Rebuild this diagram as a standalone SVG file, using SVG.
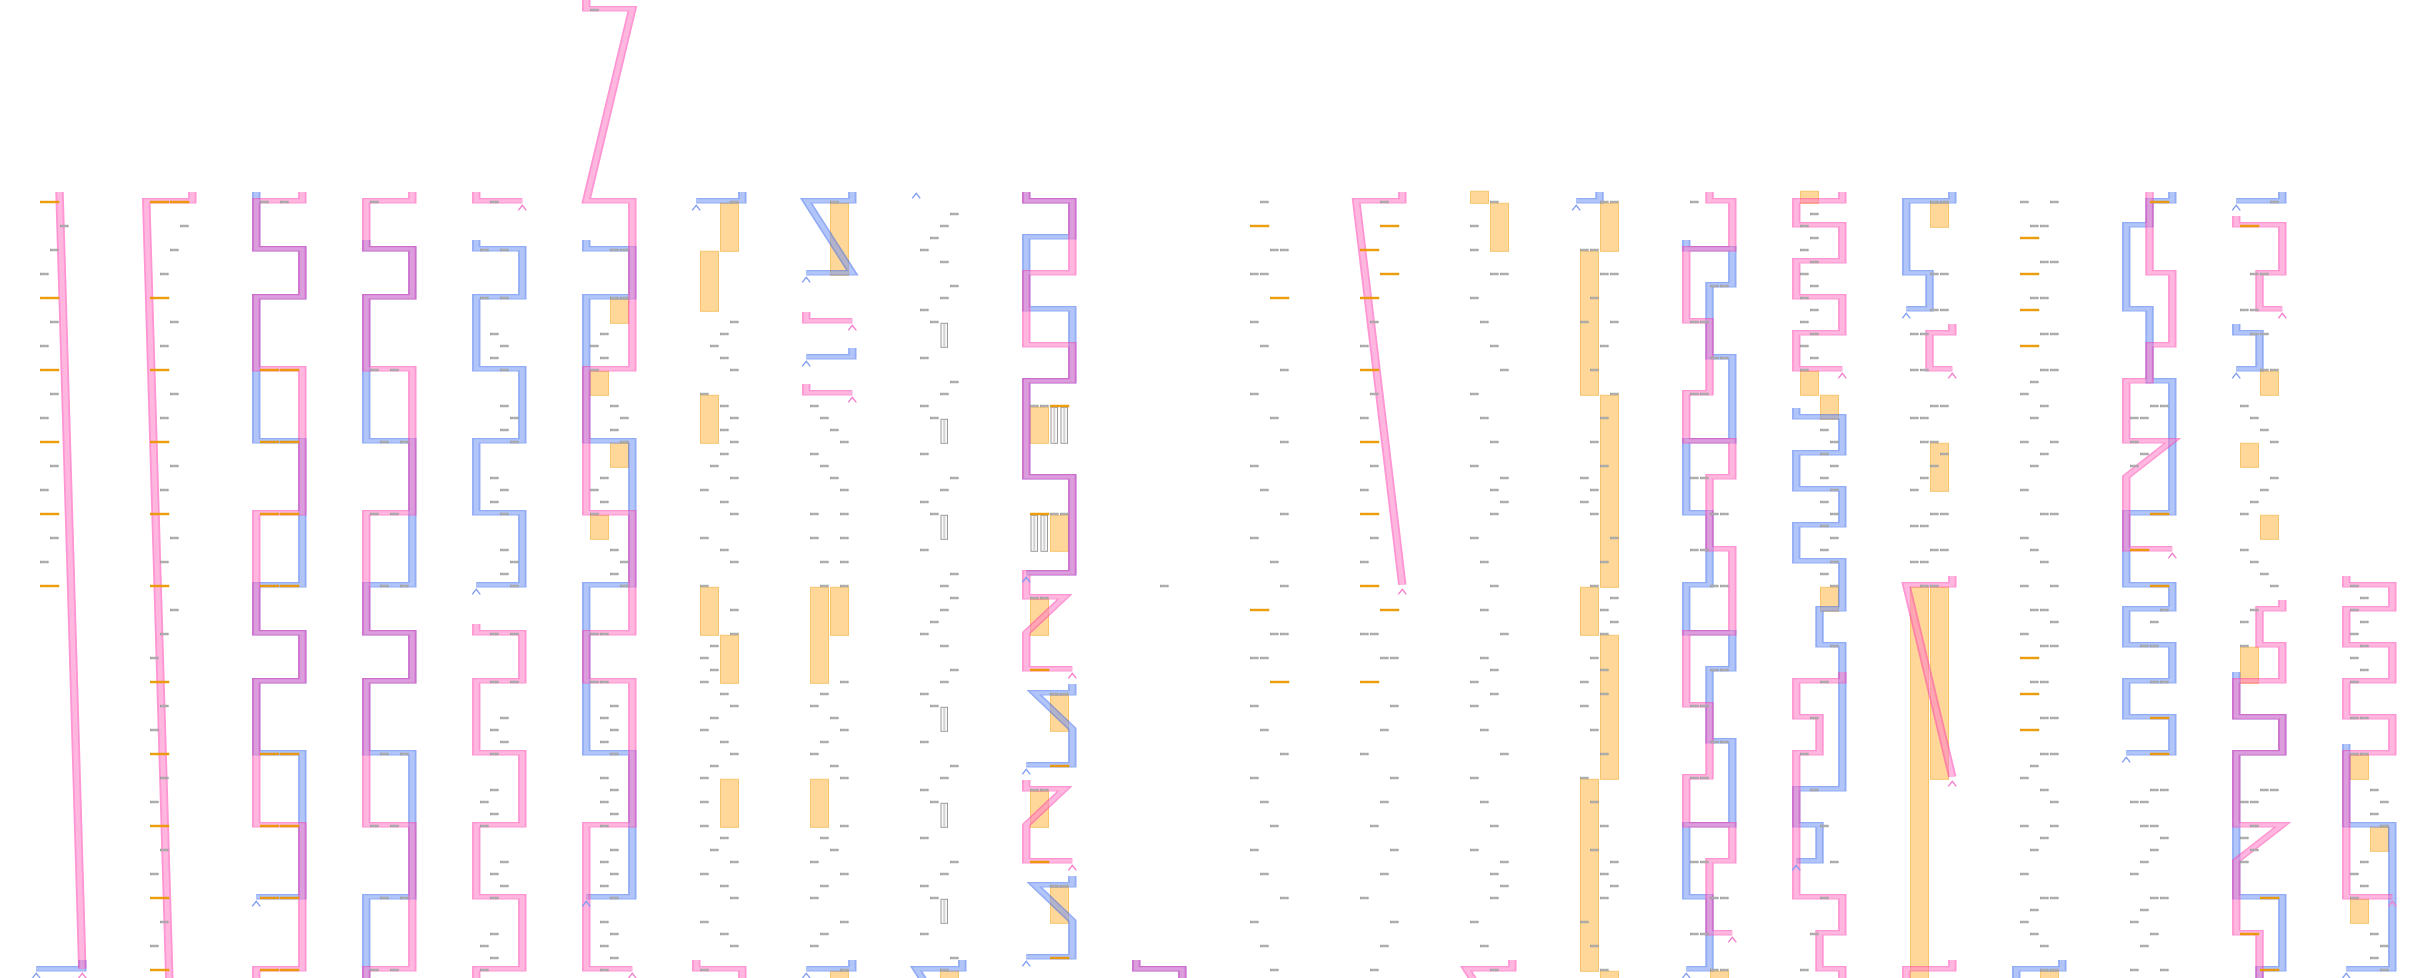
<svg xmlns="http://www.w3.org/2000/svg" width="2430" height="978" viewBox="0 0 2430 978">
<style>
.or{fill:#ffd899;stroke:#f7c56e;stroke-width:1}
.st{fill:#fafafa;stroke:#9a9a9a;stroke-width:1}
.stl{stroke:#d2d2d2;stroke-width:2}
.bl,.pk{opacity:.55}
.o{fill:none;stroke-width:5.6}
.i{fill:none;stroke-width:3.2}
.bl .o{stroke:#3a68ee}.bl .i{stroke:#7596f3}
.pk .o{stroke:#ff3fae}.pk .i{stroke:#ff7ec8}
.cb{fill:none;stroke:#7f9cf2;stroke-width:1.3}
.cp{fill:none;stroke:#f47acb;stroke-width:1.3}
</style>
<defs>
<rect id="g" x="0.5" y="-0.7" width="7.6" height="1.4" fill="#fff" stroke="#9b9b9b" stroke-width="1"/>
<rect id="o" x="0.5" y="-0.7" width="18.2" height="1.4" fill="#f7a712" stroke="#e99500" stroke-width="1"/>
<path id="cv" d="M-4 9.5L0 4.5L4 9.5"/>
<path id="p0p" d="M13 192L28.2 968.8"/>
<path id="p0b" d="M28.2 960V968.8H-2.5"/>
<path id="p1p" d="M28.2 192V200.8H-2.5L13 985"/>
<path id="p2b" d="M-2.5 192V248.8H28.2V296.8H-2.5V440.8H28.2V584.8H-2.5V632.8H28.2V680.8H-2.5V752.8H28.2V896.8H-2.5"/>
<path id="p2p" d="M28.2 192V200.8H-2.5V248.8H28.2V296.8H-2.5V368.8H28.2V512.8H-2.5V632.8H28.2V680.8H-2.5V824.8H28.2V968.8H-2.5V985"/>
<path id="p3b" d="M-2.5 240V248.8H28.2V296.8H-2.5V440.8H28.2V584.8H-2.5V632.8H28.2V680.8H-2.5V752.8H28.2V896.8H-2.5V985"/>
<path id="p4a" d="M-2.5 192V200.8H28.2"/>
<path id="p4b" d="M-2.5 240V248.8H28.2V296.8H-2.5V368.8H28.2V440.8H-2.5V512.8H28.2V584.8H-2.5"/>
<path id="p4c" d="M-2.5 624V632.8H28.2V680.8H-2.5V752.8H28.2V824.8H-2.5V896.8H28.2V968.8H-2.5V985"/>
<path id="p5b" d="M-2.5 240V248.8H28.2V296.8H-2.5V440.8H28.2V584.8H-2.5V752.8H28.2V896.8H-2.5"/>
<path id="p5p" d="M-2.5 -5V8.8H28.2L-2.5 200.8H28.2V368.8H-2.5V512.8H28.2V632.8H-2.5V680.8H28.2V824.8H-2.5V968.8H28.2"/>
<path id="pTL" d="M28.2 192V200.8H-2.5"/>
<path id="pBR" d="M-2.5 960V968.8H28.2V985"/>
<path id="pBL" d="M28.2 960V968.8H-2.5V985"/>
<path id="p7a" d="M28.2 192V200.8H-2.5L28.2 272.8H-2.5"/>
<path id="p7b" d="M-2.5 312V320.8H28.2"/>
<path id="p7c" d="M28.2 348V356.8H-2.5"/>
<path id="p7d" d="M-2.5 384V392.8H28.2"/>
<path id="pZ" d="M28.2 960V968.8H-2.5L28.2 1040.8"/>
<path id="p9b" d="M-2.5 192V200.8H28.2V236.8H-2.5V308.8H28.2V380.8H-2.5V476.8H28.2V572.8H-2.5"/>
<path id="p9c" d="M28.2 684V692.8H3L28.2 728.8V764.8H-2.5"/>
<path id="p9d" d="M28.2 876V884.8H3L28.2 920.8V956.8H-2.5"/>
<path id="p9p" d="M-2.5 192V200.8H28.2V272.8H-2.5V344.8H28.2V380.8H-2.5V476.8H28.2V572.8H-2.5V596.8H23L-2.5 632.8V668.8H28.2"/>
<path id="p9q" d="M-2.5 780V788.8H23L-2.5 824.8V860.8H28.2"/>
<path id="p12" d="M28.2 192V200.8H-2.5L28.2 584.8"/>
<path id="p14" d="M13 192V200.8H-2.5"/>
<path id="p15p" d="M13 192V200.8H28.2V248.8H-2.5V320.8H13V392.8H-2.5V440.8H28.2V476.8H13V548.8H28.2V632.8H-2.5V704.8H13V776.8H-2.5V824.8H28.2V860.8H13V932.8H28.2"/>
<path id="p15b" d="M-2.5 240V248.8H28.2V284.8H13V356.8H28.2V440.8H-2.5V512.8H13V584.8H-2.5V632.8H28.2V668.8H13V740.8H28.2V824.8H-2.5V896.8H13V968.8H-2.5"/>
<path id="p16a" d="M28.2 192V200.8H-2.5V224.8H28.2V260.8H-2.5V296.8H28.2V332.8H-2.5V368.8H28.2"/>
<path id="p16b" d="M-2.5 408V416.8H28.2V452.8H-2.5V488.8H28.2V524.8H-2.5V560.8H28.2V608.8H13V644.8H28.2V788.8H-2.5V824.8H13V860.8H-2.5"/>
<path id="p16c" d="M28.2 672V680.8H-2.5V716.8H13V752.8H-2.5V896.8H28.2V932.8H13V968.8H28.2V985"/>
<path id="p17a" d="M28.2 192V200.8H-2.5V272.8H13V308.8H-2.5"/>
<path id="p17b" d="M28.2 324V332.8H13V368.8H28.2"/>
<path id="p17c" d="M28.2 576V584.8H-2.5L28.2 776.8"/>
<path id="p19b" d="M28.2 192V200.8H13V224.8H-2.5V308.8H13V380.8H28.2V512.8H-2.5V584.8H28.2V608.8H-2.5V644.8H28.2V680.8H-2.5V716.8H28.2V752.8H-2.5"/>
<path id="p19p" d="M13 192V272.8H28.2V344.8H13V380.8H-2.5V440.8H28.2L-2.5 476.8V548.8H28.2"/>
<path id="p20a" d="M-2.5 216V224.8H28.2V272.8H13V308.8H28.2"/>
<path id="p20b" d="M-2.5 324V332.8H13V368.8H-2.5"/>
<path id="p20c" d="M-2.5 672V716.8H28.2V752.8H-2.5V896.8H28.2V968.8H13V985"/>
<path id="p20d" d="M28.2 600V608.8H13V644.8H28.2V680.8H-2.5V716.8H28.2V752.8H-2.5V824.8H28.2L-2.5 860.8V932.8H13V985"/>
<path id="p21b" d="M-2.5 744V824.8H28.2V968.8H-2.5"/>
<path id="p21p" d="M-2.5 576V584.8H28.2V608.8H-2.5V644.8H28.2V680.8H-2.5V716.8H28.2V752.8H-2.5V896.8H28.2"/>
</defs>
<rect width="2430" height="978" fill="#fff"/>

<g id="bands">
<g transform="translate(590 202)"><rect class="or" x="20.5" y="97.3" width="18" height="24"/><rect class="or" x="0.5" y="169.3" width="18" height="24"/><rect class="or" x="20.5" y="241.3" width="18" height="24"/><rect class="or" x="0.5" y="313.3" width="18" height="24"/></g>
<g transform="translate(700 202)"><rect class="or" x="20.5" y="1.3" width="18" height="48"/><rect class="or" x="0.5" y="49.3" width="18" height="60"/><rect class="or" x="0.5" y="193.3" width="18" height="48"/><rect class="or" x="0.5" y="385.3" width="18" height="48"/><rect class="or" x="20.5" y="433.3" width="18" height="48"/><rect class="or" x="20.5" y="577.3" width="18" height="48"/></g>
<g transform="translate(810 202)"><rect class="or" x="20.5" y="1.3" width="18" height="72"/><rect class="or" x="0.5" y="385.3" width="18" height="96"/><rect class="or" x="20.5" y="385.3" width="18" height="48"/><rect class="or" x="0.5" y="577.3" width="18" height="48"/><rect class="or" x="20.5" y="769.3" width="18" height="24"/></g>
<g transform="translate(920 202)"><rect class="or" x="20.5" y="769.3" width="18" height="24"/>
<rect class="st" x="21" y="121.3" width="6.5" height="24"/><line class="stl" x1="24.25" y1="121.8" x2="24.25" y2="144.8"/>
<rect class="st" x="21" y="217.3" width="6.5" height="24"/><line class="stl" x1="24.25" y1="217.8" x2="24.25" y2="240.8"/>
<rect class="st" x="21" y="313.3" width="6.5" height="24"/><line class="stl" x1="24.25" y1="313.8" x2="24.25" y2="336.8"/>
<rect class="st" x="21" y="505.3" width="6.5" height="24"/><line class="stl" x1="24.25" y1="505.8" x2="24.25" y2="528.8"/>
<rect class="st" x="21" y="601.3" width="6.5" height="24"/><line class="stl" x1="24.25" y1="601.8" x2="24.25" y2="624.8"/>
<rect class="st" x="21" y="697.3" width="6.5" height="24"/><line class="stl" x1="24.25" y1="697.8" x2="24.25" y2="720.8"/></g>
<g transform="translate(1030 202)"><rect class="or" x="0.5" y="205.3" width="18" height="36"/><rect class="or" x="20.5" y="313.3" width="18" height="36"/><rect class="or" x="0.5" y="397.3" width="18" height="36"/><rect class="or" x="20.5" y="493.3" width="18" height="36"/><rect class="or" x="0.5" y="589.3" width="18" height="36"/><rect class="or" x="20.5" y="685.3" width="18" height="36"/>
<rect class="st" x="21" y="205.3" width="6.5" height="36"/><line class="stl" x1="24.25" y1="205.8" x2="24.25" y2="240.8"/>
<rect class="st" x="31" y="205.3" width="6.5" height="36"/><line class="stl" x1="34.25" y1="205.8" x2="34.25" y2="240.8"/>
<rect class="st" x="1" y="313.3" width="6.5" height="36"/><line class="stl" x1="4.25" y1="313.8" x2="4.25" y2="348.8"/>
<rect class="st" x="11" y="313.3" width="6.5" height="36"/><line class="stl" x1="14.25" y1="313.8" x2="14.25" y2="348.8"/></g>
<g transform="translate(1470 202)"><rect class="or" x="0.5" y="-10.7" width="18" height="12"/><rect class="or" x="20.5" y="1.3" width="18" height="48"/></g>
<g transform="translate(1580 202)"><rect class="or" x="20.5" y="1.3" width="18" height="48"/><rect class="or" x="0.5" y="49.3" width="18" height="144"/><rect class="or" x="20.5" y="193.3" width="18" height="192"/><rect class="or" x="0.5" y="385.3" width="18" height="48"/><rect class="or" x="20.5" y="433.3" width="18" height="144"/><rect class="or" x="0.5" y="577.3" width="18" height="192"/><rect class="or" x="20.5" y="769.3" width="18" height="24"/></g>
<g transform="translate(1690 202)"><rect class="or" x="20.5" y="769.3" width="18" height="24"/></g>
<g transform="translate(1800 202)"><rect class="or" x="0.5" y="-10.7" width="18" height="12"/><rect class="or" x="0.5" y="169.3" width="18" height="24"/><rect class="or" x="20.5" y="193.3" width="18" height="24"/><rect class="or" x="20.5" y="385.3" width="18" height="24"/></g>
<g transform="translate(1910 202)"><rect class="or" x="20.5" y="1.3" width="18" height="24"/><rect class="or" x="20.5" y="241.3" width="18" height="48"/><rect class="or" x="0.5" y="385.3" width="18" height="400"/><rect class="or" x="20.5" y="385.3" width="18" height="192"/></g>
<g transform="translate(2020 202)"><rect class="or" x="20.5" y="769.3" width="18" height="24"/></g>
<g transform="translate(2240 202)"><rect class="or" x="20.5" y="169.3" width="18" height="24"/><rect class="or" x="0.5" y="241.3" width="18" height="24"/><rect class="or" x="20.5" y="313.3" width="18" height="24"/><rect class="or" x="0.5" y="445.3" width="18" height="36"/></g>
<g transform="translate(2350 202)"><rect class="or" x="0.5" y="553.3" width="18" height="24"/><rect class="or" x="20.5" y="625.3" width="18" height="24"/><rect class="or" x="0.5" y="697.3" width="18" height="24"/></g>
</g>

<g id="connectors">
<g transform="translate(40 0) scale(1.5 1)"><g class="bl"><use href="#p0b" class="o"/><use href="#p0b" class="i"/></g><g class="pk"><use href="#p0p" class="o"/><use href="#p0p" class="i"/></g></g>
<g transform="translate(150 0) scale(1.5 1)"><g class="pk"><use href="#p1p" class="o"/><use href="#p1p" class="i"/></g></g>
<g transform="translate(260 0) scale(1.5 1)"><g class="bl"><use href="#p2b" class="o"/><use href="#p2b" class="i"/></g><g class="pk"><use href="#p2p" class="o"/><use href="#p2p" class="i"/></g></g>
<g transform="translate(370 0) scale(1.5 1)"><g class="bl"><use href="#p3b" class="o"/><use href="#p3b" class="i"/></g><g class="pk"><use href="#p2p" class="o"/><use href="#p2p" class="i"/></g></g>
<g transform="translate(480 0) scale(1.5 1)"><g class="bl"><use href="#p4b" class="o"/><use href="#p4b" class="i"/></g><g class="pk"><use href="#p4a" class="o"/><use href="#p4a" class="i"/></g><g class="pk"><use href="#p4c" class="o"/><use href="#p4c" class="i"/></g></g>
<g transform="translate(590 0) scale(1.5 1)"><g class="bl"><use href="#p5b" class="o"/><use href="#p5b" class="i"/></g><g class="pk"><use href="#p5p" class="o"/><use href="#p5p" class="i"/></g></g>
<g transform="translate(700 0) scale(1.5 1)"><g class="bl"><use href="#pTL" class="o"/><use href="#pTL" class="i"/></g><g class="pk"><use href="#pBR" class="o"/><use href="#pBR" class="i"/></g></g>
<g transform="translate(810 0) scale(1.5 1)"><g class="bl"><use href="#p7a" class="o"/><use href="#p7a" class="i"/></g><g class="pk"><use href="#p7b" class="o"/><use href="#p7b" class="i"/></g><g class="bl"><use href="#p7c" class="o"/><use href="#p7c" class="i"/></g><g class="pk"><use href="#p7d" class="o"/><use href="#p7d" class="i"/></g><g class="bl"><use href="#p0b" class="o"/><use href="#p0b" class="i"/></g></g>
<g transform="translate(920 0) scale(1.5 1)"><g class="bl"><use href="#pZ" class="o"/><use href="#pZ" class="i"/></g></g>
<g transform="translate(1030 0) scale(1.5 1)"><g class="bl"><use href="#p9b" class="o"/><use href="#p9b" class="i"/></g><g class="bl"><use href="#p9c" class="o"/><use href="#p9c" class="i"/></g><g class="bl"><use href="#p9d" class="o"/><use href="#p9d" class="i"/></g><g class="pk"><use href="#p9p" class="o"/><use href="#p9p" class="i"/></g><g class="pk"><use href="#p9q" class="o"/><use href="#p9q" class="i"/></g></g>
<g transform="translate(1140 0) scale(1.5 1)"><g class="bl"><use href="#pBR" class="o"/><use href="#pBR" class="i"/></g><g class="pk"><use href="#pBR" class="o"/><use href="#pBR" class="i"/></g></g>
<g transform="translate(1360 0) scale(1.5 1)"><g class="pk"><use href="#p12" class="o"/><use href="#p12" class="i"/></g></g>
<g transform="translate(1470 0) scale(1.5 1)"><g class="pk"><use href="#pZ" class="o"/><use href="#pZ" class="i"/></g></g>
<g transform="translate(1580 0) scale(1.5 1)"><g class="bl"><use href="#p14" class="o"/><use href="#p14" class="i"/></g></g>
<g transform="translate(1690 0) scale(1.5 1)"><g class="bl"><use href="#p15b" class="o"/><use href="#p15b" class="i"/></g><g class="pk"><use href="#p15p" class="o"/><use href="#p15p" class="i"/></g></g>
<g transform="translate(1800 0) scale(1.5 1)"><g class="bl"><use href="#p16b" class="o"/><use href="#p16b" class="i"/></g><g class="pk"><use href="#p16a" class="o"/><use href="#p16a" class="i"/></g><g class="pk"><use href="#p16c" class="o"/><use href="#p16c" class="i"/></g></g>
<g transform="translate(1910 0) scale(1.5 1)"><g class="bl"><use href="#p17a" class="o"/><use href="#p17a" class="i"/></g><g class="pk"><use href="#p17b" class="o"/><use href="#p17b" class="i"/></g><g class="pk"><use href="#p17c" class="o"/><use href="#p17c" class="i"/></g><g class="pk"><use href="#pBL" class="o"/><use href="#pBL" class="i"/></g></g>
<g transform="translate(2020 0) scale(1.5 1)"><g class="bl"><use href="#pBL" class="o"/><use href="#pBL" class="i"/></g></g>
<g transform="translate(2130 0) scale(1.5 1)"><g class="bl"><use href="#p19b" class="o"/><use href="#p19b" class="i"/></g><g class="pk"><use href="#p19p" class="o"/><use href="#p19p" class="i"/></g></g>
<g transform="translate(2240 0) scale(1.5 1)"><g class="bl"><use href="#pTL" class="o"/><use href="#pTL" class="i"/></g><g class="bl"><use href="#p20b" class="o"/><use href="#p20b" class="i"/></g><g class="bl"><use href="#p20c" class="o"/><use href="#p20c" class="i"/></g><g class="pk"><use href="#p20a" class="o"/><use href="#p20a" class="i"/></g><g class="pk"><use href="#p20d" class="o"/><use href="#p20d" class="i"/></g></g>
<g transform="translate(2350 0) scale(1.5 1)"><g class="bl"><use href="#p21b" class="o"/><use href="#p21b" class="i"/></g><g class="pk"><use href="#p21p" class="o"/><use href="#p21p" class="i"/></g></g>
</g>

<g id="col-0" transform="translate(40 202)">
<use href="#cv" class="cp" x="42.3" y="766.8"/><use href="#cv" class="cb" x="-3.75" y="766.8"/>
<use href="#o" x="0" y="0"/><use href="#o" x="0" y="96"/><use href="#o" x="0" y="168"/><use href="#o" x="0" y="240"/><use href="#o" x="0" y="312"/><use href="#o" x="0" y="384"/>
<use href="#g" x="20" y="24"/><use href="#g" x="10" y="48"/><use href="#g" x="0" y="72"/><use href="#g" x="10" y="120"/><use href="#g" x="0" y="144"/><use href="#g" x="10" y="192"/><use href="#g" x="0" y="216"/><use href="#g" x="10" y="264"/><use href="#g" x="0" y="288"/><use href="#g" x="10" y="336"/><use href="#g" x="0" y="360"/>
</g>
<g id="col-1" transform="translate(150 202)">
<use href="#o" x="0" y="0"/><use href="#o" x="20" y="0"/><use href="#o" x="0" y="96"/><use href="#o" x="0" y="168"/><use href="#o" x="0" y="240"/><use href="#o" x="0" y="312"/><use href="#o" x="0" y="384"/><use href="#o" x="0" y="480"/><use href="#o" x="0" y="552"/><use href="#o" x="0" y="624"/><use href="#o" x="0" y="696"/><use href="#o" x="0" y="768"/>
<use href="#g" x="30" y="24"/><use href="#g" x="20" y="48"/><use href="#g" x="10" y="72"/><use href="#g" x="20" y="120"/><use href="#g" x="10" y="144"/><use href="#g" x="20" y="192"/><use href="#g" x="10" y="216"/><use href="#g" x="20" y="264"/><use href="#g" x="10" y="288"/><use href="#g" x="20" y="336"/><use href="#g" x="10" y="360"/><use href="#g" x="20" y="408"/><use href="#g" x="10" y="432"/><use href="#g" x="0" y="456"/><use href="#g" x="10" y="504"/><use href="#g" x="0" y="528"/><use href="#g" x="10" y="576"/><use href="#g" x="0" y="600"/><use href="#g" x="10" y="648"/><use href="#g" x="0" y="672"/><use href="#g" x="10" y="720"/><use href="#g" x="0" y="744"/>
</g>
<g id="col-2" transform="translate(260 202)">
<use href="#cv" class="cb" x="-3.75" y="694.8"/>
<use href="#g" x="0" y="0"/><use href="#g" x="20" y="0"/>
<use href="#o" x="0" y="168"/><use href="#o" x="20" y="168"/><use href="#o" x="0" y="240"/><use href="#o" x="20" y="240"/><use href="#o" x="0" y="312"/><use href="#o" x="20" y="312"/><use href="#o" x="0" y="384"/><use href="#o" x="20" y="384"/><use href="#o" x="0" y="552"/><use href="#o" x="20" y="552"/><use href="#o" x="0" y="624"/><use href="#o" x="20" y="624"/><use href="#o" x="0" y="696"/><use href="#o" x="20" y="696"/><use href="#o" x="0" y="768"/><use href="#o" x="20" y="768"/>
</g>
<g id="col-3" transform="translate(370 202)">
<use href="#g" x="0" y="0"/><use href="#g" x="0" y="168"/><use href="#g" x="20" y="168"/><use href="#g" x="10" y="240"/><use href="#g" x="30" y="240"/><use href="#g" x="0" y="312"/><use href="#g" x="20" y="312"/><use href="#g" x="10" y="384"/><use href="#g" x="30" y="384"/><use href="#g" x="10" y="552"/><use href="#g" x="30" y="552"/><use href="#g" x="0" y="624"/><use href="#g" x="20" y="624"/><use href="#g" x="10" y="696"/><use href="#g" x="30" y="696"/><use href="#g" x="0" y="768"/><use href="#g" x="20" y="768"/>
</g>
<g id="col-4" transform="translate(480 202)">
<use href="#cv" class="cp" x="42.3" y="-1.2"/><use href="#cv" class="cb" x="-3.75" y="382.8"/>
<use href="#g" x="10" y="0"/><use href="#g" x="0" y="48"/><use href="#g" x="20" y="48"/><use href="#g" x="0" y="96"/><use href="#g" x="20" y="96"/><use href="#g" x="10" y="132"/><use href="#g" x="20" y="144"/><use href="#g" x="10" y="156"/><use href="#g" x="20" y="168"/><use href="#g" x="20" y="204"/><use href="#g" x="30" y="216"/><use href="#g" x="20" y="228"/><use href="#g" x="30" y="240"/><use href="#g" x="10" y="276"/><use href="#g" x="20" y="288"/><use href="#g" x="10" y="300"/><use href="#g" x="20" y="312"/><use href="#g" x="20" y="348"/><use href="#g" x="30" y="360"/><use href="#g" x="20" y="372"/><use href="#g" x="30" y="384"/><use href="#g" x="10" y="432"/><use href="#g" x="30" y="432"/><use href="#g" x="10" y="480"/><use href="#g" x="30" y="480"/><use href="#g" x="20" y="516"/><use href="#g" x="10" y="528"/><use href="#g" x="20" y="540"/><use href="#g" x="10" y="552"/><use href="#g" x="10" y="588"/><use href="#g" x="0" y="600"/><use href="#g" x="10" y="612"/><use href="#g" x="0" y="624"/><use href="#g" x="20" y="660"/><use href="#g" x="10" y="672"/><use href="#g" x="20" y="684"/><use href="#g" x="10" y="696"/><use href="#g" x="10" y="732"/><use href="#g" x="0" y="744"/><use href="#g" x="10" y="756"/><use href="#g" x="0" y="768"/>
</g>
<g id="col-5" transform="translate(590 202)">
<use href="#cv" class="cb" x="-3.75" y="694.8"/><use href="#cv" class="cp" x="42.3" y="766.8"/>
<use href="#g" x="0" y="-192"/><use href="#g" x="20" y="48"/><use href="#g" x="30" y="48"/><use href="#g" x="20" y="96"/><use href="#g" x="30" y="96"/><use href="#g" x="10" y="132"/><use href="#g" x="0" y="144"/><use href="#g" x="10" y="156"/><use href="#g" x="0" y="168"/><use href="#g" x="20" y="204"/><use href="#g" x="30" y="216"/><use href="#g" x="20" y="228"/><use href="#g" x="30" y="240"/><use href="#g" x="10" y="276"/><use href="#g" x="0" y="288"/><use href="#g" x="10" y="300"/><use href="#g" x="0" y="312"/><use href="#g" x="20" y="348"/><use href="#g" x="30" y="360"/><use href="#g" x="20" y="372"/><use href="#g" x="30" y="384"/><use href="#g" x="0" y="432"/><use href="#g" x="10" y="432"/><use href="#g" x="0" y="480"/><use href="#g" x="10" y="480"/><use href="#g" x="20" y="504"/><use href="#g" x="10" y="516"/><use href="#g" x="20" y="528"/><use href="#g" x="10" y="540"/><use href="#g" x="20" y="552"/><use href="#g" x="10" y="576"/><use href="#g" x="20" y="588"/><use href="#g" x="10" y="600"/><use href="#g" x="20" y="612"/><use href="#g" x="10" y="624"/><use href="#g" x="20" y="648"/><use href="#g" x="10" y="660"/><use href="#g" x="20" y="672"/><use href="#g" x="10" y="684"/><use href="#g" x="20" y="696"/><use href="#g" x="10" y="720"/><use href="#g" x="20" y="732"/><use href="#g" x="10" y="744"/><use href="#g" x="20" y="756"/><use href="#g" x="10" y="768"/>
</g>
<g id="col-6" transform="translate(700 202)">
<use href="#cv" class="cb" x="-3.75" y="-1.2"/>
<use href="#g" x="30" y="0"/><use href="#g" x="30" y="120"/><use href="#g" x="20" y="132"/><use href="#g" x="10" y="144"/><use href="#g" x="20" y="156"/><use href="#g" x="30" y="168"/><use href="#g" x="0" y="192"/><use href="#g" x="20" y="204"/><use href="#g" x="30" y="216"/><use href="#g" x="20" y="228"/><use href="#g" x="30" y="240"/><use href="#g" x="20" y="252"/><use href="#g" x="10" y="264"/><use href="#g" x="30" y="276"/><use href="#g" x="0" y="288"/><use href="#g" x="20" y="300"/><use href="#g" x="30" y="312"/><use href="#g" x="0" y="336"/><use href="#g" x="20" y="348"/><use href="#g" x="30" y="360"/><use href="#g" x="0" y="384"/><use href="#g" x="30" y="408"/><use href="#g" x="30" y="432"/><use href="#g" x="10" y="444"/><use href="#g" x="0" y="456"/><use href="#g" x="10" y="468"/><use href="#g" x="0" y="480"/><use href="#g" x="20" y="492"/><use href="#g" x="30" y="504"/><use href="#g" x="10" y="516"/><use href="#g" x="0" y="528"/><use href="#g" x="20" y="540"/><use href="#g" x="30" y="552"/><use href="#g" x="10" y="564"/><use href="#g" x="0" y="576"/><use href="#g" x="0" y="600"/><use href="#g" x="0" y="624"/><use href="#g" x="20" y="636"/><use href="#g" x="10" y="648"/><use href="#g" x="30" y="660"/><use href="#g" x="0" y="672"/><use href="#g" x="20" y="684"/><use href="#g" x="30" y="696"/><use href="#g" x="0" y="720"/><use href="#g" x="20" y="732"/><use href="#g" x="30" y="744"/><use href="#g" x="0" y="768"/>
</g>
<g id="col-7" transform="translate(810 202)">
<use href="#cv" class="cb" x="-3.75" y="70.8"/><use href="#cv" class="cp" x="42.3" y="118.8"/><use href="#cv" class="cb" x="-3.75" y="154.8"/><use href="#cv" class="cp" x="42.3" y="190.8"/><use href="#cv" class="cb" x="-3.75" y="766.8"/>
<use href="#g" x="20" y="0"/><use href="#g" x="0" y="204"/><use href="#g" x="10" y="216"/><use href="#g" x="20" y="228"/><use href="#g" x="30" y="240"/><use href="#g" x="0" y="252"/><use href="#g" x="10" y="264"/><use href="#g" x="20" y="276"/><use href="#g" x="30" y="288"/><use href="#g" x="0" y="312"/><use href="#g" x="30" y="312"/><use href="#g" x="0" y="336"/><use href="#g" x="30" y="336"/><use href="#g" x="10" y="360"/><use href="#g" x="30" y="360"/><use href="#g" x="10" y="384"/><use href="#g" x="30" y="384"/><use href="#g" x="30" y="480"/><use href="#g" x="10" y="492"/><use href="#g" x="0" y="504"/><use href="#g" x="20" y="516"/><use href="#g" x="30" y="528"/><use href="#g" x="10" y="540"/><use href="#g" x="0" y="552"/><use href="#g" x="20" y="564"/><use href="#g" x="30" y="576"/><use href="#g" x="30" y="624"/><use href="#g" x="10" y="636"/><use href="#g" x="20" y="648"/><use href="#g" x="0" y="660"/><use href="#g" x="30" y="672"/><use href="#g" x="10" y="684"/><use href="#g" x="0" y="696"/><use href="#g" x="30" y="720"/><use href="#g" x="10" y="732"/><use href="#g" x="0" y="744"/><use href="#g" x="30" y="768"/>
</g>
<g id="col-8" transform="translate(920 202)">
<use href="#cv" class="cb" x="-3.75" y="-13.2"/>
<use href="#g" x="30" y="12"/><use href="#g" x="20" y="24"/><use href="#g" x="10" y="36"/><use href="#g" x="0" y="48"/><use href="#g" x="20" y="60"/><use href="#g" x="30" y="84"/><use href="#g" x="20" y="96"/><use href="#g" x="0" y="108"/><use href="#g" x="10" y="120"/><use href="#g" x="0" y="156"/><use href="#g" x="30" y="180"/><use href="#g" x="20" y="192"/><use href="#g" x="0" y="204"/><use href="#g" x="10" y="216"/><use href="#g" x="0" y="252"/><use href="#g" x="30" y="276"/><use href="#g" x="20" y="288"/><use href="#g" x="0" y="300"/><use href="#g" x="10" y="312"/><use href="#g" x="0" y="348"/><use href="#g" x="30" y="372"/><use href="#g" x="20" y="384"/><use href="#g" x="30" y="396"/><use href="#g" x="20" y="408"/><use href="#g" x="10" y="420"/><use href="#g" x="0" y="432"/><use href="#g" x="20" y="444"/><use href="#g" x="30" y="468"/><use href="#g" x="20" y="480"/><use href="#g" x="0" y="492"/><use href="#g" x="10" y="504"/><use href="#g" x="0" y="540"/><use href="#g" x="30" y="564"/><use href="#g" x="20" y="576"/><use href="#g" x="0" y="588"/><use href="#g" x="10" y="600"/><use href="#g" x="0" y="636"/><use href="#g" x="30" y="660"/><use href="#g" x="20" y="672"/><use href="#g" x="0" y="684"/><use href="#g" x="10" y="696"/><use href="#g" x="0" y="732"/><use href="#g" x="30" y="756"/><use href="#g" x="20" y="768"/>
</g>
<g id="col-9" transform="translate(1030 202)">
<use href="#cv" class="cb" x="-3.75" y="370.8"/><use href="#cv" class="cp" x="42.3" y="466.8"/><use href="#cv" class="cb" x="-3.75" y="562.8"/><use href="#cv" class="cp" x="42.3" y="658.8"/><use href="#cv" class="cb" x="-3.75" y="754.8"/>
<use href="#o" x="20" y="204"/><use href="#o" x="0" y="312"/><use href="#o" x="0" y="468"/><use href="#o" x="20" y="564"/><use href="#o" x="0" y="660"/><use href="#o" x="20" y="756"/>
<use href="#g" x="0" y="204"/><use href="#g" x="10" y="204"/><use href="#g" x="20" y="312"/><use href="#g" x="30" y="312"/><use href="#g" x="0" y="396"/><use href="#g" x="10" y="396"/><use href="#g" x="20" y="492"/><use href="#g" x="30" y="492"/><use href="#g" x="0" y="588"/><use href="#g" x="10" y="588"/><use href="#g" x="20" y="684"/><use href="#g" x="30" y="684"/>
</g>
<g id="col-10" transform="translate(1140 202)">
<use href="#g" x="20" y="384"/>
</g>
<g id="col-11" transform="translate(1250 202)">
<use href="#o" x="0" y="24"/><use href="#o" x="20" y="96"/><use href="#o" x="0" y="408"/><use href="#o" x="20" y="480"/>
<use href="#g" x="10" y="0"/><use href="#g" x="20" y="48"/><use href="#g" x="30" y="48"/><use href="#g" x="0" y="72"/><use href="#g" x="10" y="72"/><use href="#g" x="0" y="120"/><use href="#g" x="10" y="144"/><use href="#g" x="30" y="168"/><use href="#g" x="0" y="192"/><use href="#g" x="20" y="216"/><use href="#g" x="30" y="240"/><use href="#g" x="0" y="264"/><use href="#g" x="10" y="288"/><use href="#g" x="30" y="312"/><use href="#g" x="0" y="336"/><use href="#g" x="20" y="360"/><use href="#g" x="30" y="384"/><use href="#g" x="20" y="432"/><use href="#g" x="30" y="432"/><use href="#g" x="0" y="456"/><use href="#g" x="10" y="456"/><use href="#g" x="0" y="504"/><use href="#g" x="10" y="528"/><use href="#g" x="30" y="552"/><use href="#g" x="0" y="576"/><use href="#g" x="10" y="600"/><use href="#g" x="20" y="624"/><use href="#g" x="0" y="648"/><use href="#g" x="10" y="672"/><use href="#g" x="30" y="696"/><use href="#g" x="0" y="720"/><use href="#g" x="10" y="744"/><use href="#g" x="20" y="768"/>
</g>
<g id="col-12" transform="translate(1360 202)">
<use href="#cv" class="cp" x="42.3" y="382.8"/>
<use href="#o" x="20" y="24"/><use href="#o" x="0" y="48"/><use href="#o" x="20" y="72"/><use href="#o" x="0" y="96"/><use href="#o" x="0" y="168"/><use href="#o" x="0" y="240"/><use href="#o" x="0" y="312"/><use href="#o" x="0" y="384"/><use href="#o" x="20" y="408"/><use href="#o" x="0" y="480"/>
<use href="#g" x="20" y="0"/><use href="#g" x="10" y="120"/><use href="#g" x="0" y="144"/><use href="#g" x="10" y="192"/><use href="#g" x="0" y="216"/><use href="#g" x="10" y="264"/><use href="#g" x="0" y="288"/><use href="#g" x="10" y="336"/><use href="#g" x="0" y="360"/><use href="#g" x="0" y="432"/><use href="#g" x="10" y="432"/><use href="#g" x="20" y="456"/><use href="#g" x="30" y="456"/><use href="#g" x="30" y="504"/><use href="#g" x="20" y="528"/><use href="#g" x="0" y="552"/><use href="#g" x="30" y="576"/><use href="#g" x="20" y="600"/><use href="#g" x="10" y="624"/><use href="#g" x="30" y="648"/><use href="#g" x="20" y="672"/><use href="#g" x="0" y="696"/><use href="#g" x="30" y="720"/><use href="#g" x="20" y="744"/><use href="#g" x="10" y="768"/>
</g>
<g id="col-13" transform="translate(1470 202)">
<use href="#g" x="20" y="0"/><use href="#g" x="0" y="24"/><use href="#g" x="0" y="48"/><use href="#g" x="20" y="72"/><use href="#g" x="30" y="72"/><use href="#g" x="0" y="96"/><use href="#g" x="10" y="120"/><use href="#g" x="20" y="144"/><use href="#g" x="30" y="168"/><use href="#g" x="0" y="192"/><use href="#g" x="10" y="216"/><use href="#g" x="20" y="240"/><use href="#g" x="0" y="264"/><use href="#g" x="30" y="276"/><use href="#g" x="20" y="288"/><use href="#g" x="30" y="300"/><use href="#g" x="20" y="312"/><use href="#g" x="0" y="336"/><use href="#g" x="10" y="360"/><use href="#g" x="20" y="384"/><use href="#g" x="10" y="408"/><use href="#g" x="30" y="432"/><use href="#g" x="10" y="456"/><use href="#g" x="20" y="468"/><use href="#g" x="0" y="480"/><use href="#g" x="20" y="492"/><use href="#g" x="0" y="504"/><use href="#g" x="10" y="528"/><use href="#g" x="30" y="552"/><use href="#g" x="0" y="576"/><use href="#g" x="10" y="600"/><use href="#g" x="20" y="624"/><use href="#g" x="0" y="648"/><use href="#g" x="30" y="660"/><use href="#g" x="20" y="672"/><use href="#g" x="30" y="684"/><use href="#g" x="20" y="696"/><use href="#g" x="0" y="720"/><use href="#g" x="10" y="744"/><use href="#g" x="20" y="768"/>
</g>
<g id="col-14" transform="translate(1580 202)">
<use href="#cv" class="cb" x="-3.75" y="-1.2"/>
<use href="#g" x="20" y="0"/><use href="#g" x="30" y="0"/><use href="#g" x="0" y="48"/><use href="#g" x="10" y="48"/><use href="#g" x="20" y="72"/><use href="#g" x="30" y="72"/><use href="#g" x="10" y="96"/><use href="#g" x="0" y="120"/><use href="#g" x="30" y="120"/><use href="#g" x="20" y="144"/><use href="#g" x="10" y="168"/><use href="#g" x="30" y="192"/><use href="#g" x="20" y="216"/><use href="#g" x="10" y="240"/><use href="#g" x="20" y="264"/><use href="#g" x="0" y="276"/><use href="#g" x="10" y="288"/><use href="#g" x="0" y="300"/><use href="#g" x="10" y="312"/><use href="#g" x="30" y="336"/><use href="#g" x="20" y="360"/><use href="#g" x="10" y="384"/><use href="#g" x="30" y="396"/><use href="#g" x="20" y="408"/><use href="#g" x="30" y="420"/><use href="#g" x="20" y="432"/><use href="#g" x="10" y="456"/><use href="#g" x="20" y="468"/><use href="#g" x="0" y="480"/><use href="#g" x="20" y="492"/><use href="#g" x="0" y="504"/><use href="#g" x="10" y="528"/><use href="#g" x="20" y="552"/><use href="#g" x="0" y="576"/><use href="#g" x="10" y="600"/><use href="#g" x="20" y="624"/><use href="#g" x="10" y="648"/><use href="#g" x="30" y="660"/><use href="#g" x="20" y="672"/><use href="#g" x="30" y="684"/><use href="#g" x="20" y="696"/><use href="#g" x="0" y="720"/><use href="#g" x="10" y="744"/><use href="#g" x="20" y="768"/>
</g>
<g id="col-15" transform="translate(1690 202)">
<use href="#cv" class="cp" x="42.3" y="730.8"/><use href="#cv" class="cb" x="-3.75" y="766.8"/>
<use href="#g" x="0" y="0"/><use href="#g" x="20" y="84"/><use href="#g" x="30" y="84"/><use href="#g" x="0" y="120"/><use href="#g" x="10" y="120"/><use href="#g" x="20" y="156"/><use href="#g" x="30" y="156"/><use href="#g" x="0" y="192"/><use href="#g" x="10" y="192"/><use href="#g" x="0" y="276"/><use href="#g" x="10" y="276"/><use href="#g" x="20" y="312"/><use href="#g" x="30" y="312"/><use href="#g" x="0" y="348"/><use href="#g" x="10" y="348"/><use href="#g" x="20" y="384"/><use href="#g" x="30" y="384"/><use href="#g" x="20" y="468"/><use href="#g" x="30" y="468"/><use href="#g" x="0" y="504"/><use href="#g" x="10" y="504"/><use href="#g" x="20" y="540"/><use href="#g" x="30" y="540"/><use href="#g" x="0" y="576"/><use href="#g" x="10" y="576"/><use href="#g" x="0" y="660"/><use href="#g" x="10" y="660"/><use href="#g" x="20" y="696"/><use href="#g" x="30" y="696"/><use href="#g" x="0" y="732"/><use href="#g" x="10" y="732"/><use href="#g" x="20" y="768"/><use href="#g" x="30" y="768"/>
</g>
<g id="col-16" transform="translate(1800 202)">
<use href="#cv" class="cp" x="42.3" y="166.8"/><use href="#cv" class="cb" x="-3.75" y="658.8"/>
<use href="#g" x="10" y="12"/><use href="#g" x="0" y="24"/><use href="#g" x="10" y="36"/><use href="#g" x="0" y="48"/><use href="#g" x="10" y="60"/><use href="#g" x="0" y="72"/><use href="#g" x="10" y="84"/><use href="#g" x="0" y="96"/><use href="#g" x="10" y="108"/><use href="#g" x="0" y="120"/><use href="#g" x="10" y="132"/><use href="#g" x="0" y="144"/><use href="#g" x="10" y="156"/><use href="#g" x="0" y="168"/><use href="#g" x="20" y="228"/><use href="#g" x="30" y="240"/><use href="#g" x="20" y="252"/><use href="#g" x="30" y="264"/><use href="#g" x="20" y="276"/><use href="#g" x="30" y="288"/><use href="#g" x="20" y="300"/><use href="#g" x="30" y="312"/><use href="#g" x="20" y="324"/><use href="#g" x="30" y="336"/><use href="#g" x="20" y="348"/><use href="#g" x="30" y="360"/><use href="#g" x="20" y="372"/><use href="#g" x="30" y="384"/><use href="#g" x="30" y="444"/><use href="#g" x="20" y="480"/><use href="#g" x="10" y="516"/><use href="#g" x="0" y="552"/><use href="#g" x="10" y="588"/><use href="#g" x="20" y="624"/><use href="#g" x="30" y="660"/><use href="#g" x="20" y="696"/><use href="#g" x="10" y="732"/><use href="#g" x="0" y="768"/>
</g>
<g id="col-17" transform="translate(1910 202)">
<use href="#cv" class="cb" x="-3.75" y="106.8"/><use href="#cv" class="cp" x="42.3" y="166.8"/><use href="#cv" class="cp" x="42.3" y="574.8"/>
<use href="#g" x="20" y="0"/><use href="#g" x="30" y="0"/><use href="#g" x="20" y="72"/><use href="#g" x="30" y="72"/><use href="#g" x="20" y="108"/><use href="#g" x="30" y="108"/><use href="#g" x="0" y="132"/><use href="#g" x="10" y="132"/><use href="#g" x="0" y="168"/><use href="#g" x="10" y="168"/><use href="#g" x="20" y="204"/><use href="#g" x="30" y="204"/><use href="#g" x="0" y="216"/><use href="#g" x="10" y="216"/><use href="#g" x="10" y="240"/><use href="#g" x="20" y="240"/><use href="#g" x="30" y="252"/><use href="#g" x="20" y="264"/><use href="#g" x="10" y="276"/><use href="#g" x="0" y="288"/><use href="#g" x="20" y="312"/><use href="#g" x="30" y="312"/><use href="#g" x="0" y="324"/><use href="#g" x="10" y="324"/><use href="#g" x="20" y="348"/><use href="#g" x="30" y="348"/><use href="#g" x="0" y="360"/><use href="#g" x="10" y="360"/><use href="#g" x="10" y="384"/><use href="#g" x="20" y="384"/>
</g>
<g id="col-18" transform="translate(2020 202)">
<use href="#o" x="0" y="36"/><use href="#o" x="0" y="72"/><use href="#o" x="0" y="108"/><use href="#o" x="0" y="144"/><use href="#o" x="0" y="456"/><use href="#o" x="0" y="492"/><use href="#o" x="0" y="528"/>
<use href="#g" x="0" y="0"/><use href="#g" x="30" y="0"/><use href="#g" x="10" y="24"/><use href="#g" x="20" y="24"/><use href="#g" x="20" y="60"/><use href="#g" x="30" y="60"/><use href="#g" x="10" y="96"/><use href="#g" x="20" y="96"/><use href="#g" x="20" y="132"/><use href="#g" x="30" y="132"/><use href="#g" x="20" y="168"/><use href="#g" x="30" y="168"/><use href="#g" x="10" y="180"/><use href="#g" x="0" y="192"/><use href="#g" x="20" y="204"/><use href="#g" x="10" y="216"/><use href="#g" x="0" y="240"/><use href="#g" x="30" y="240"/><use href="#g" x="20" y="252"/><use href="#g" x="10" y="264"/><use href="#g" x="0" y="288"/><use href="#g" x="20" y="312"/><use href="#g" x="30" y="312"/><use href="#g" x="0" y="336"/><use href="#g" x="10" y="348"/><use href="#g" x="20" y="360"/><use href="#g" x="0" y="384"/><use href="#g" x="30" y="384"/><use href="#g" x="10" y="408"/><use href="#g" x="20" y="408"/><use href="#g" x="30" y="420"/><use href="#g" x="0" y="432"/><use href="#g" x="20" y="444"/><use href="#g" x="30" y="444"/><use href="#g" x="10" y="480"/><use href="#g" x="20" y="480"/><use href="#g" x="20" y="516"/><use href="#g" x="30" y="516"/><use href="#g" x="20" y="552"/><use href="#g" x="30" y="552"/><use href="#g" x="10" y="564"/><use href="#g" x="0" y="576"/><use href="#g" x="20" y="588"/><use href="#g" x="30" y="600"/><use href="#g" x="0" y="624"/><use href="#g" x="30" y="624"/><use href="#g" x="20" y="636"/><use href="#g" x="10" y="648"/><use href="#g" x="0" y="672"/><use href="#g" x="20" y="696"/><use href="#g" x="30" y="696"/><use href="#g" x="10" y="708"/><use href="#g" x="0" y="720"/><use href="#g" x="10" y="732"/><use href="#g" x="20" y="744"/><use href="#g" x="20" y="768"/><use href="#g" x="30" y="768"/>
</g>
<g id="col-19" transform="translate(2130 202)">
<use href="#cv" class="cp" x="42.3" y="346.8"/><use href="#cv" class="cb" x="-3.75" y="550.8"/>
<use href="#o" x="20" y="0"/><use href="#o" x="20" y="312"/><use href="#o" x="0" y="348"/><use href="#o" x="20" y="384"/><use href="#o" x="20" y="516"/><use href="#o" x="20" y="552"/>
<use href="#g" x="20" y="204"/><use href="#g" x="30" y="204"/><use href="#g" x="0" y="216"/><use href="#g" x="10" y="216"/><use href="#g" x="0" y="240"/><use href="#g" x="10" y="252"/><use href="#g" x="0" y="264"/><use href="#g" x="30" y="408"/><use href="#g" x="20" y="420"/><use href="#g" x="10" y="444"/><use href="#g" x="20" y="444"/><use href="#g" x="20" y="480"/><use href="#g" x="30" y="480"/><use href="#g" x="20" y="588"/><use href="#g" x="30" y="588"/><use href="#g" x="0" y="600"/><use href="#g" x="10" y="600"/><use href="#g" x="10" y="624"/><use href="#g" x="20" y="624"/><use href="#g" x="30" y="636"/><use href="#g" x="20" y="648"/><use href="#g" x="10" y="660"/><use href="#g" x="0" y="672"/><use href="#g" x="20" y="696"/><use href="#g" x="30" y="696"/><use href="#g" x="10" y="708"/><use href="#g" x="0" y="720"/><use href="#g" x="20" y="732"/><use href="#g" x="10" y="744"/><use href="#g" x="0" y="768"/><use href="#g" x="30" y="768"/>
</g>
<g id="col-20" transform="translate(2240 202)">
<use href="#cv" class="cb" x="-3.75" y="-1.2"/><use href="#cv" class="cp" x="42.3" y="106.8"/><use href="#cv" class="cb" x="-3.75" y="166.8"/>
<use href="#o" x="0" y="24"/><use href="#o" x="20" y="696"/><use href="#o" x="0" y="732"/><use href="#o" x="20" y="768"/>
<use href="#g" x="30" y="0"/><use href="#g" x="10" y="72"/><use href="#g" x="20" y="72"/><use href="#g" x="0" y="108"/><use href="#g" x="10" y="108"/><use href="#g" x="10" y="132"/><use href="#g" x="20" y="132"/><use href="#g" x="20" y="168"/><use href="#g" x="30" y="168"/><use href="#g" x="0" y="204"/><use href="#g" x="10" y="216"/><use href="#g" x="20" y="228"/><use href="#g" x="30" y="240"/><use href="#g" x="30" y="276"/><use href="#g" x="20" y="288"/><use href="#g" x="10" y="300"/><use href="#g" x="0" y="312"/><use href="#g" x="0" y="348"/><use href="#g" x="10" y="360"/><use href="#g" x="20" y="372"/><use href="#g" x="30" y="384"/><use href="#g" x="10" y="408"/><use href="#g" x="0" y="420"/><use href="#g" x="0" y="444"/><use href="#g" x="20" y="588"/><use href="#g" x="30" y="588"/><use href="#g" x="0" y="600"/><use href="#g" x="10" y="600"/><use href="#g" x="10" y="624"/><use href="#g" x="0" y="636"/><use href="#g" x="10" y="648"/><use href="#g" x="0" y="660"/>
</g>
<g id="col-21" transform="translate(2350 202)">
<use href="#cv" class="cp" x="42.3" y="694.8"/><use href="#cv" class="cb" x="-3.75" y="766.8"/>
<use href="#g" x="0" y="384"/><use href="#g" x="10" y="396"/><use href="#g" x="0" y="408"/><use href="#g" x="10" y="420"/><use href="#g" x="0" y="432"/><use href="#g" x="10" y="444"/><use href="#g" x="0" y="456"/><use href="#g" x="10" y="468"/><use href="#g" x="0" y="480"/><use href="#g" x="0" y="516"/><use href="#g" x="10" y="516"/><use href="#g" x="0" y="552"/><use href="#g" x="10" y="552"/><use href="#g" x="20" y="588"/><use href="#g" x="30" y="600"/><use href="#g" x="20" y="612"/><use href="#g" x="30" y="624"/><use href="#g" x="10" y="660"/><use href="#g" x="0" y="672"/><use href="#g" x="10" y="684"/><use href="#g" x="0" y="696"/><use href="#g" x="20" y="732"/><use href="#g" x="30" y="744"/><use href="#g" x="20" y="756"/><use href="#g" x="30" y="768"/>
</g>
</svg>
